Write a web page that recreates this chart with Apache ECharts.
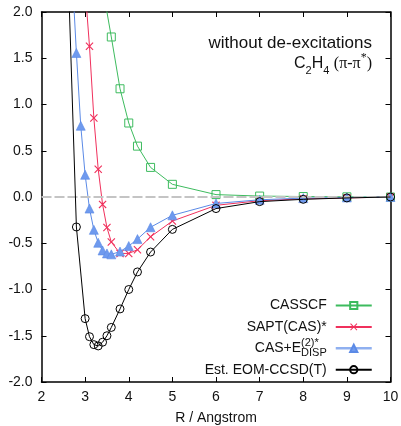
<!DOCTYPE html>
<html>
<head>
<meta charset="utf-8">
<script src="https://cdn.jsdelivr.net/npm/echarts@6/dist/echarts.min.js"></script>
<style>
html,body{margin:0;padding:0;background:#fff;}
#chart{width:401px;height:426px;}
</style>
</head>
<body>
<div id="chart"></div>
<script>
// ---- data ----
const casscfR = [3.4, 3.6, 3.8, 4.0, 4.2, 4.5, 5, 6, 7, 8, 9, 10];
const casscfE = [2.27, 1.73, 1.17, 0.80, 0.55, 0.32, 0.137, 0.026, 0.01, 0.005, 0.002, 0.0];

const saptR = [3.0, 3.1, 3.2, 3.3, 3.4, 3.5, 3.6, 3.8, 4.0, 4.2, 4.5, 5, 6, 7, 8, 9, 10];
const saptE = [2.25, 1.63, 0.854, 0.30, -0.08, -0.33, -0.486, -0.61, -0.61, -0.57, -0.43, -0.26, -0.09, -0.04, -0.02, -0.01, 0.0];

const casDispR = [2.7, 2.8, 2.9, 3.0, 3.1, 3.2, 3.3, 3.4, 3.5, 3.6, 3.8, 4.0, 4.2, 4.5, 5, 6, 7, 8, 9, 10];
const casDispE = [2.44, 1.557, 0.77, 0.24, -0.125, -0.355, -0.495, -0.578, -0.61, -0.62, -0.59, -0.53, -0.455, -0.327, -0.198, -0.07, -0.03, -0.012, -0.005, 0.0];

const eomR = [2.6, 2.8, 3.0, 3.1, 3.2, 3.3, 3.4, 3.5, 3.6, 3.8, 4.0, 4.2, 4.5, 5, 6, 7, 8, 9, 10];
const eomE = [2.6, -0.324, -1.315, -1.51, -1.596, -1.61, -1.57, -1.50, -1.41, -1.21, -1.00, -0.81, -0.595, -0.35, -0.125, -0.05, -0.025, -0.01, 0.0];

const seriesNames = ['CASSCF', 'SAPT(CAS)*', 'CAS+E(2)*DISP', 'Est. EOM-CCSD(T)'];
const xTicks = {min: 2, max: 10, interval: 1};
const yTicks = {min: -2, max: 2, interval: 0.5};

// ---- chart ----
const SANS = 'Liberation Sans, Arial, Helvetica, sans-serif';
const SERIF = 'Liberation Serif, Times New Roman, serif';
const TXT = '#111';

function pairs(xs, ys) { return xs.map((x, i) => [x, ys[i]]); }

const axisLine = {onZero: false, lineStyle: {color: '#000', width: 1.5}};
const axisTick = {inside: true, length: 5, lineStyle: {color: '#000', width: 1}};

const chart = echarts.init(document.getElementById('chart'), null, {renderer: 'canvas'});

const option = {
  animation: false,
  backgroundColor: '#fff',
  grid: {left: 41.5, right: 10.5, top: 12, bottom: 44, outerBoundsMode: 'none', containLabel: false},
  xAxis: [
    {type: 'value', min: xTicks.min, max: xTicks.max, interval: xTicks.interval, position: 'bottom',
     axisLine: axisLine, axisTick: axisTick, splitLine: {show: false},
     axisLabel: {fontSize: 14, color: TXT, fontFamily: SANS, margin: 8},
     name: 'R / Angstrom', nameLocation: 'middle', nameGap: 29,
     nameTextStyle: {fontSize: 14, color: TXT, fontFamily: SANS}},
    {type: 'value', min: xTicks.min, max: xTicks.max, interval: xTicks.interval, position: 'top',
     axisLine: axisLine, axisTick: axisTick, splitLine: {show: false}, axisLabel: {show: false}}
  ],
  yAxis: [
    {type: 'value', min: yTicks.min, max: yTicks.max, interval: yTicks.interval, position: 'left',
     axisLine: axisLine, axisTick: axisTick, splitLine: {show: false},
     axisLabel: {fontSize: 14, color: TXT, fontFamily: SANS, margin: 9, formatter: v => v.toFixed(1)}},
    {type: 'value', min: yTicks.min, max: yTicks.max, interval: yTicks.interval, position: 'right',
     axisLine: axisLine, axisTick: axisTick, splitLine: {show: false}, axisLabel: {show: false}}
  ],
  legend: {
    orient: 'vertical', right: 28, top: 295, padding: 0,
    itemWidth: 36, itemHeight: 9, itemGap: 0.4, align: 'right',
    textStyle: {fontSize: 14, fontFamily: SANS, color: TXT, lineHeight: 21, padding: [0, 4, 0, 0],
      rich: {
        n: {fontSize: 14, fontFamily: SANS, color: TXT, lineHeight: 21, align: 'left'},
        sup: {fontSize: 11, fontFamily: SANS, color: TXT, lineHeight: 10, verticalAlign: 'top', width: 0, align: 'left'},
        sub: {fontSize: 11, fontFamily: SANS, color: TXT, lineHeight: 10, verticalAlign: 'bottom', align: 'left'}
      }},
    formatter: function (name) {
      if (name === seriesNames[2]) return '{n|CAS+E}{sup|(2)*}{sub|DISP}';
      return '{n|' + name + '}';
    },
    data: [
      {name: seriesNames[0]},
      {name: seriesNames[1]},
      {name: seriesNames[2], lineStyle: {width: 2.5, color: '#8fb0f0'}},
      {name: seriesNames[3]}
    ]
  },
  graphic: [
    {type: 'text', x: 372, y: 43, z: 10,
     style: {text: 'without de-excitations', fontSize: 17, fontFamily: SANS, fill: TXT, align: 'right', verticalAlign: 'middle'}},
    {type: 'text', x: 372, y: 64, z: 10,
     style: {text: '{c|C}{s|2}{c|H}{s|4}{c| }{g|(π-π}{p|*}{g|)}', align: 'right', verticalAlign: 'middle', fill: TXT,
       rich: {
         c: {fontSize: 16, fontFamily: SANS, fill: TXT, lineHeight: 24, align: 'left'},
         s: {fontSize: 11, fontFamily: SANS, fill: TXT, lineHeight: 10, verticalAlign: 'bottom', align: 'left'},
         g: {fontSize: 16, fontFamily: SERIF, fill: TXT, lineHeight: 24, align: 'left'},
         p: {fontSize: 12, fontFamily: SERIF, fill: TXT, lineHeight: 16, verticalAlign: 'top', align: 'left'}
       }}}
  ],
  series: [
    {type: 'line', name: '_zero', data: [], silent: true, z: 1,
     markLine: {silent: true, symbol: 'none', label: {show: false},
       lineStyle: {color: '#c4c4c4', type: [10, 3], width: 2}, data: [{yAxis: 0}]}},
    {type: 'line', name: seriesNames[0], data: pairs(casscfR, casscfE), z: 2,
     symbol: 'rect', symbolSize: 8,
     lineStyle: {color: '#3dbb5e', width: 1},
     itemStyle: {color: 'rgba(255,255,255,0)', borderColor: '#3dbb5e', borderWidth: 1}},
    {type: 'line', name: seriesNames[1], data: pairs(saptR, saptE), z: 3,
     symbol: 'path://M0,1L1,0L5,4L9,0L10,1L6,5L10,9L9,10L5,6L1,10L0,9L4,5Z', symbolSize: 8,
     lineStyle: {color: '#f0305c', width: 1},
     itemStyle: {color: '#f0305c', borderWidth: 0}},
    {type: 'line', name: seriesNames[2], data: pairs(casDispR, casDispE), z: 4,
     symbol: 'triangle', symbolSize: 9,
     lineStyle: {color: '#5b8ae6', width: 1},
     itemStyle: {color: '#6f9aee', borderColor: '#5b8ae6', borderWidth: 0.6}},
    {type: 'line', name: seriesNames[3], data: pairs(eomR, eomE), z: 5,
     symbol: 'circle', symbolSize: 8,
     lineStyle: {color: '#000', width: 1},
     itemStyle: {color: 'rgba(255,255,255,0)', borderColor: '#000', borderWidth: 1}}
  ]
};
chart.setOption(option);
</script>
</body>
</html>
